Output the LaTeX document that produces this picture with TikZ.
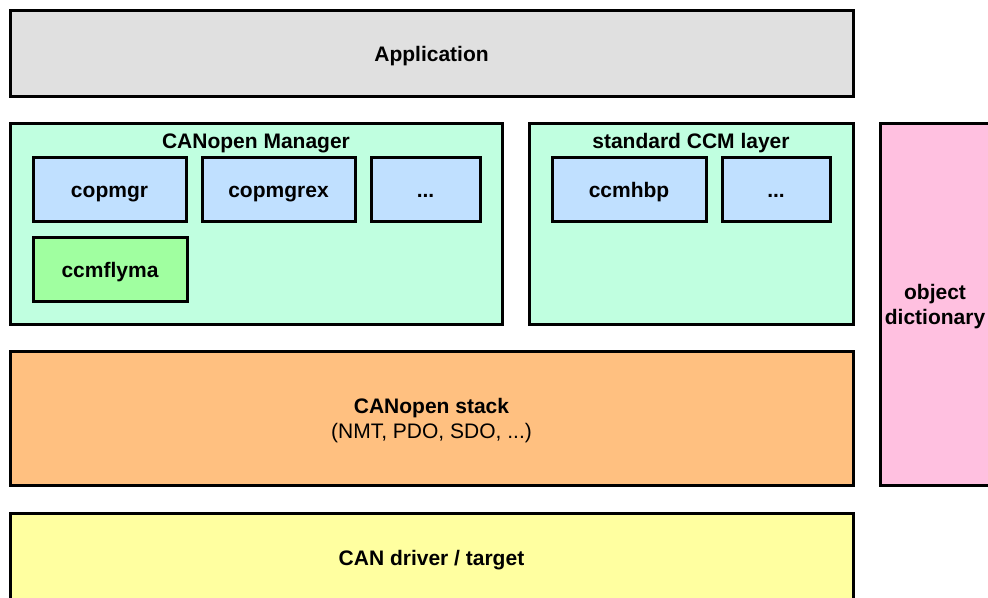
\documentclass[tikz,border=0pt]{standalone}
\usepackage{fontspec}
\setmainfont{Liberation Sans}
\usetikzlibrary{positioning}

\definecolor{appgray}{HTML}{E0E0E0}
\definecolor{mgrmint}{HTML}{C0FFE0}
\definecolor{modblue}{HTML}{C0E0FF}
\definecolor{flygreen}{HTML}{A0FFA0}
\definecolor{odpink}{HTML}{FFC0E0}
\definecolor{stackorange}{HTML}{FFC080}
\definecolor{drvyellow}{HTML}{FFFFA0}

\tikzset{
    layer/.style={draw, line width=2.25pt, inner sep=0pt, outer sep=0pt,
        anchor=north west, align=center, text depth=0pt,
        font=\fontsize{15.75pt}{18.75pt}\selectfont\bfseries},
    oneline/.style={layer, text height=12pt},
    sized/.style 2 args={minimum width=#1*0.75pt, minimum height=#2*0.75pt},
    title/.style={inner sep=0pt, font=\fontsize{15.75pt}{18.75pt}\selectfont\bfseries}
}

\begin{document}
\begin{tikzpicture}[x=0.75pt,y=-0.75pt]
    \useasboundingbox (0,0) rectangle (988,598);
    \clip (0,0) rectangle (988,598);

    % top application layer
    \node[oneline, fill=appgray, sized={843}{86}] (app) at (10,11) {Application};

    % manager block with its modules
    \node[layer, fill=mgrmint, sized={492}{201}] (mgr) at (10,124) {};
    \node[title, below=7pt of mgr.north] (mgrtitle) {CANopen Manager};
    \node[oneline, fill=modblue, sized={153}{64}] (copmgr) at (33,158) {copmgr};
    \node[oneline, fill=modblue, sized={153}{64}] (copmgrex) at (202,158) {copmgrex};
    \node[oneline, fill=modblue, sized={109}{64}] (mgrdots) at (371,158) {...};
    \node[oneline, fill=flygreen, sized={154}{64}] (flyma) at (33,238) {ccmflyma};

    % CCM block
    \node[layer, fill=mgrmint, sized={324}{201}] (ccm) at (529,124) {};
    \node[title, below=7pt of ccm.north] (ccmtitle) {standard CCM layer};
    \node[oneline, fill=modblue, sized={154}{64}] (hbp) at (552,158) {ccmhbp};
    \node[oneline, fill=modblue, sized={108}{64}] (ccmdots) at (722,158) {...};

    % object dictionary on the right
    \node[layer, fill=odpink, sized={110}{361}] (od) at (880,124) {object\\dictionary};

    % stack and driver
    \node[layer, fill=stackorange, sized={843}{133}] (stack) at (10,352)
        {CANopen stack\\{\mdseries (NMT, PDO, SDO, ...)}};
    \node[oneline, fill=drvyellow, sized={843}{88}] (driver) at (10,513) {CAN driver / target};
\end{tikzpicture}
\end{document}
